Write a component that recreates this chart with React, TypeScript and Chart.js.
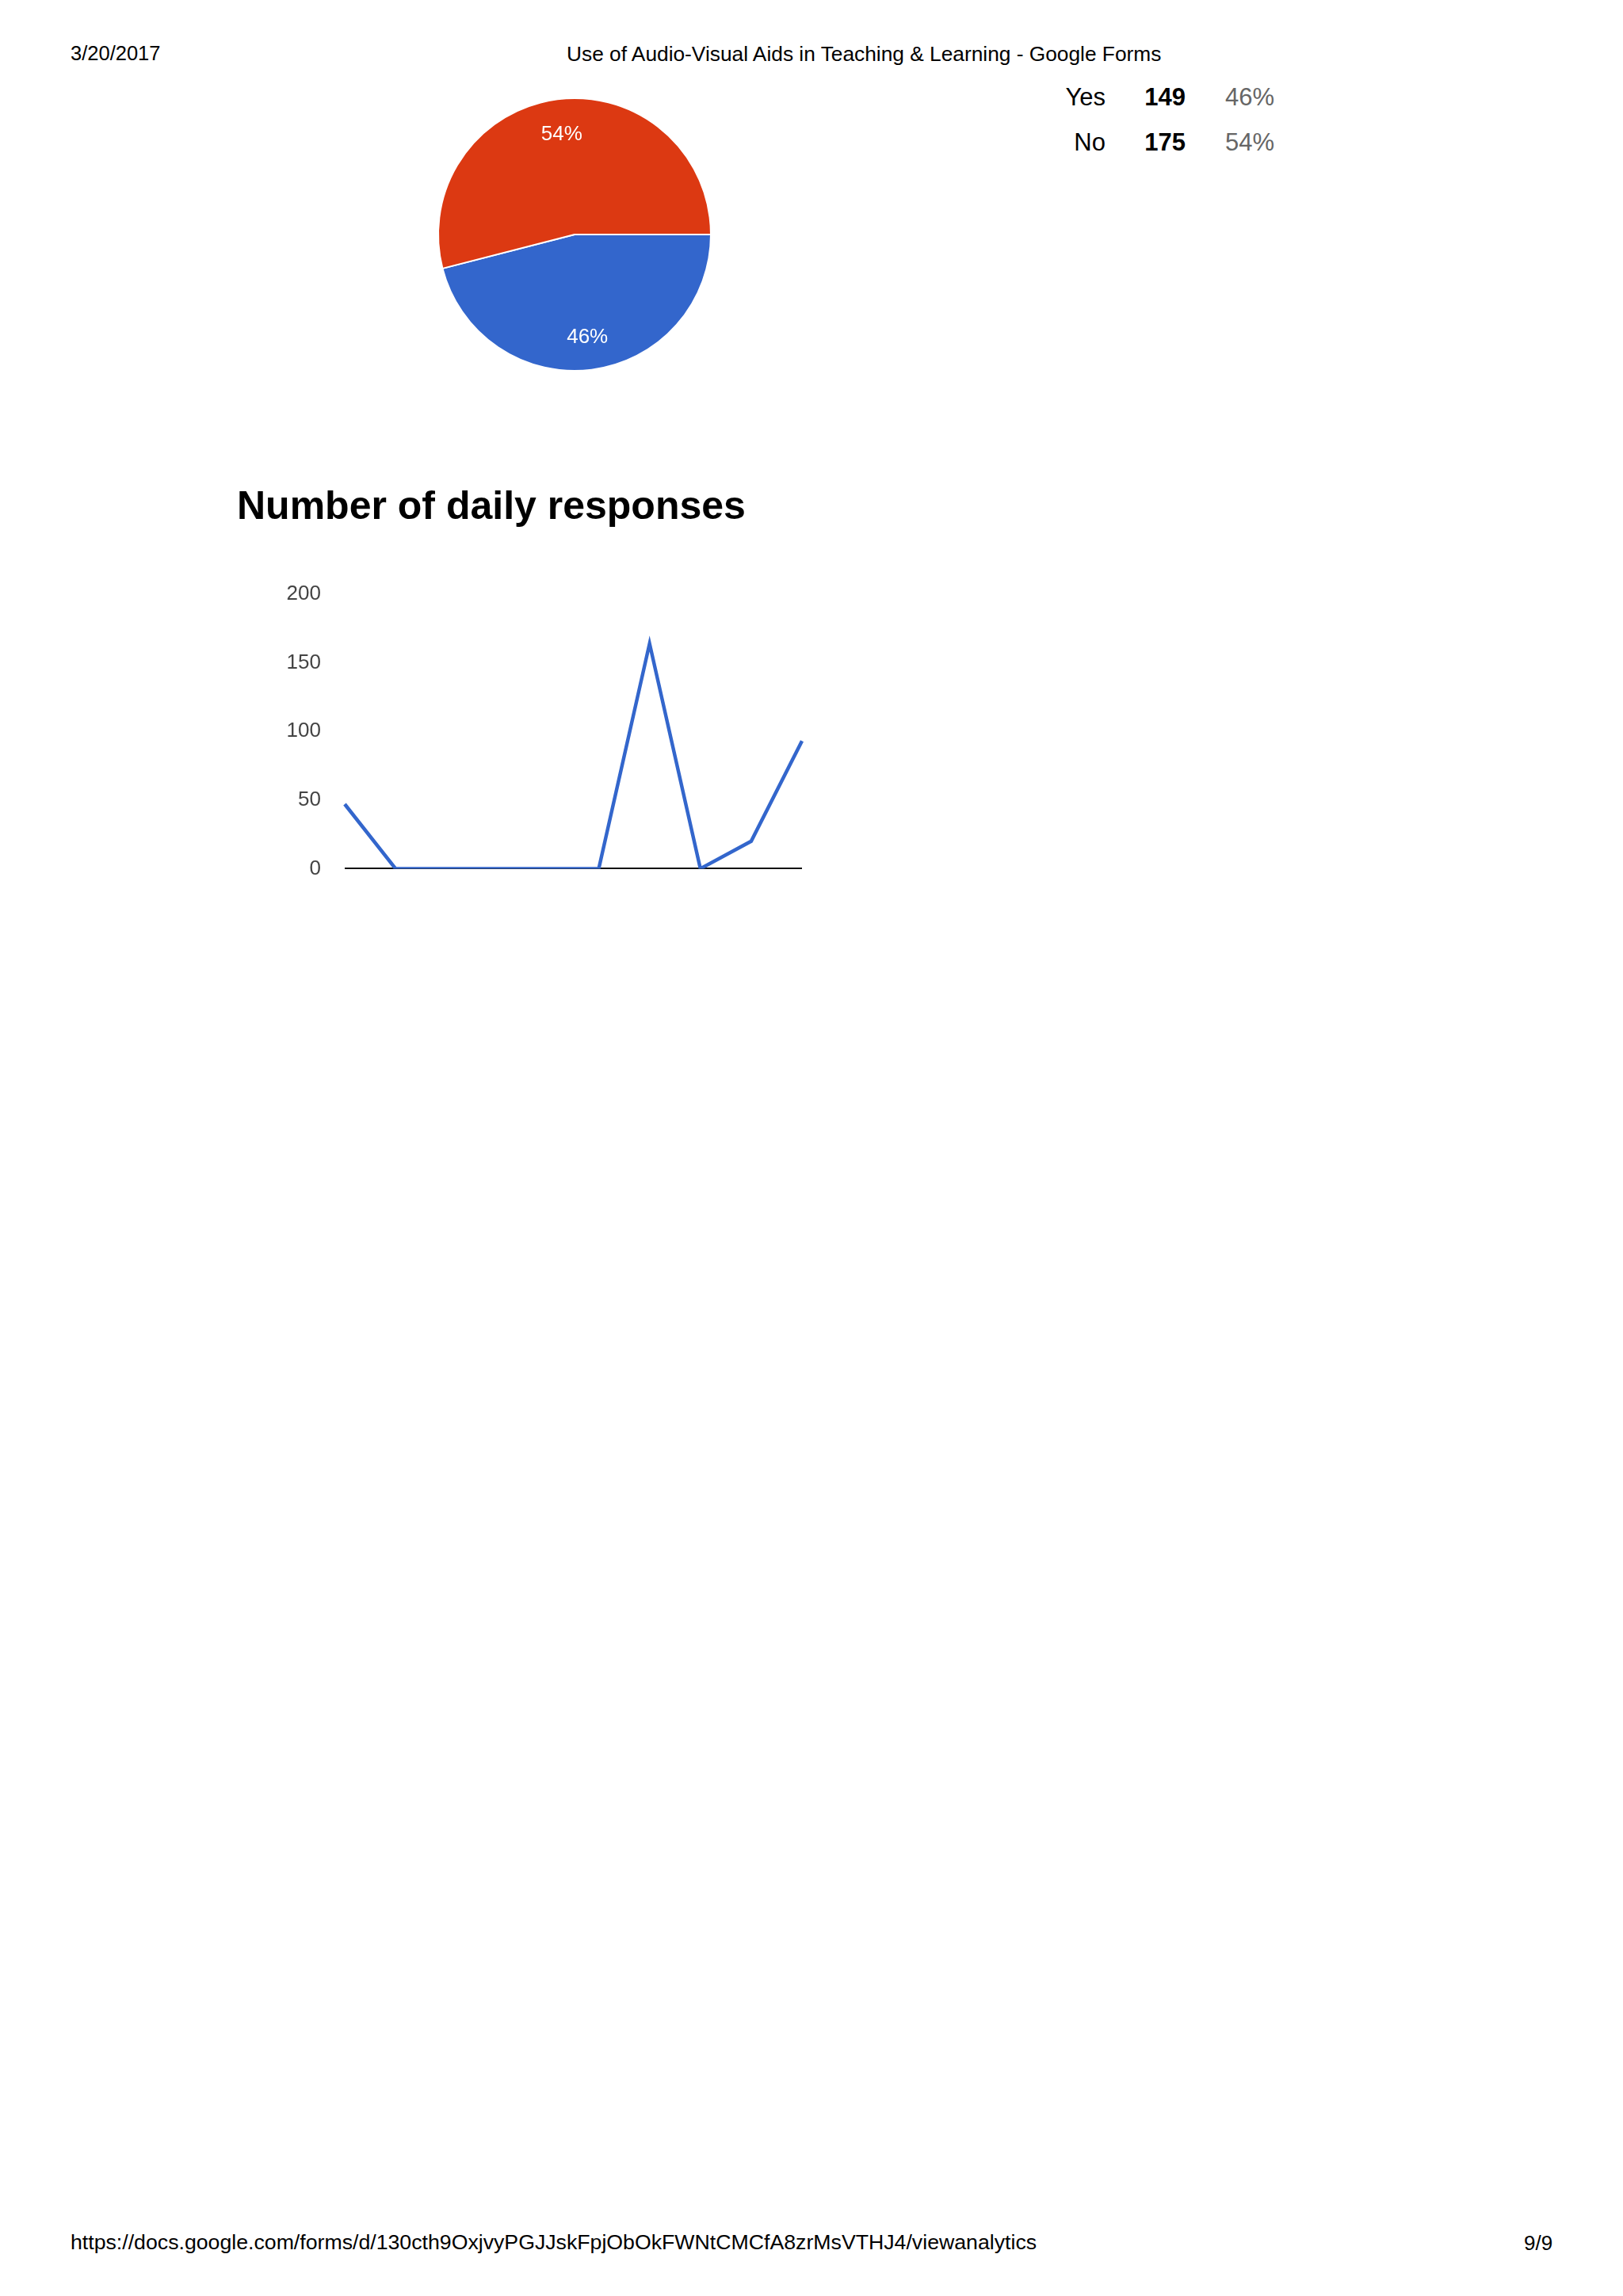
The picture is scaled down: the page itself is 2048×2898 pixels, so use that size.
import React, { useEffect, useRef } from "react";
import { Chart, registerables } from "chart.js";

Chart.register(...registerables);

// ---------- data ----------
const answerLabels = ["Yes", "No"];
const answerCounts = [149, 175];
const answerColors = ["#3366cc", "#dc3912"];

const dayLabels = ["Day 1", "Day 2", "Day 3", "Day 4", "Day 5", "Day 6", "Day 7", "Day 8", "Day 9", "Day 10"];
const dailyResponses = [47, 0, 0, 0, 0, 0, 164, 0, 20, 93];
const yTickValues = [0, 50, 100, 150, 200];

const headerDate = "3/20/2017";
const headerTitle = "Use of Audio-Visual Aids in Teaching & Learning - Google Forms";
const chartTitle = "Number of daily responses";
const footerUrl = "https://docs.google.com/forms/d/130cth9OxjvyPGJJskFpjObOkFWNtCMCfA8zrMsVTHJ4/viewanalytics";
const footerPage = "9/9";

const FONT = "'Liberation Sans', Arial, Helvetica, sans-serif";

const pieLabelPlugin = {
  id: "pieLabels",
  afterDatasetsDraw(chart: any) {
    const ctx = chart.ctx;
    const meta = chart.getDatasetMeta(0);
    const data = chart.data.datasets[0].data as number[];
    const total = data.reduce((a, b) => a + b, 0);
    const size = 26;
    ctx.save();
    ctx.fillStyle = "#ffffff";
    ctx.font = `${size}px ${FONT}`;
    ctx.textAlign = "center";
    ctx.textBaseline = "alphabetic";
    meta.data.forEach((arc: any, i: number) => {
      const { x, y, startAngle, endAngle, outerRadius } = arc.getProps(
        ["x", "y", "startAngle", "endAngle", "outerRadius"],
        true
      );
      const mid = (startAngle + endAngle) / 2;
      const r = outerRadius * 0.75;
      ctx.fillText(
        Math.round((data[i] / total) * 100) + "%",
        x + Math.cos(mid) * r,
        y + Math.sin(mid) * r + size * 0.36
      );
    });
    ctx.restore();
  },
};

function PieChart() {
  const ref = useRef<HTMLCanvasElement | null>(null);
  useEffect(() => {
    if (!ref.current) return;
    const chart = new Chart(ref.current, {
      type: "pie",
      data: {
        labels: answerLabels,
        datasets: [
          {
            data: answerCounts,
            backgroundColor: answerColors,
            borderColor: "#ffffff",
            borderWidth: 2,
            hoverOffset: 0,
          },
        ],
      },
      options: {
        responsive: false,
        animation: false,
        events: [],
        rotation: 90,
        radius: 172,
        layout: { padding: 0 },
        plugins: { legend: { display: false }, tooltip: { enabled: false } },
      } as any,
      plugins: [pieLabelPlugin],
    });
    return () => chart.destroy();
  }, []);
  return (
    <canvas
      ref={ref}
      width={400}
      height={400}
      style={{ position: "absolute", left: 525, top: 96, width: 400, height: 400 }}
    />
  );
}

function LineChart() {
  const ref = useRef<HTMLCanvasElement | null>(null);
  useEffect(() => {
    if (!ref.current) return;
    const chart = new Chart(ref.current, {
      type: "line",
      data: {
        labels: dayLabels,
        datasets: [
          {
            data: dailyResponses,
            borderColor: "#3366cc",
            borderWidth: 4.5,
            pointRadius: 0,
            tension: 0,
            fill: false,
          },
        ],
      },
      options: {
        responsive: false,
        animation: false,
        events: [],
        layout: { padding: { top: 50, right: 28, bottom: 26, left: 0 } },
        plugins: { legend: { display: false }, tooltip: { enabled: false } },
        scales: {
          x: { display: false, offset: false },
          y: {
            min: 0,
            max: 200,
            afterBuildTicks: (scale: any) => {
              scale.ticks = yTickValues.map((v) => ({ value: v }));
            },
            afterFit: (scale: any) => {
              scale.width = 135;
            },
            ticks: {
              padding: 30,
              color: "#444444",
              font: { size: 26, family: FONT },
            },
            grid: {
              drawTicks: false,
              lineWidth: 2,
              color: (c: any) => (c.tick && c.tick.value === 0 ? "#111111" : "rgba(0,0,0,0)"),
            },
            border: { display: false },
          },
        },
      } as any,
    });
    return () => chart.destroy();
  }, []);
  return (
    <canvas
      ref={ref}
      width={740}
      height={442}
      style={{ position: "absolute", left: 300, top: 700, width: 740, height: 442 }}
    />
  );
}

function Text(props: {
  children: React.ReactNode;
  left?: number;
  right?: number;
  baseline: number;
  size: number;
  bold?: boolean;
  color?: string;
}) {
  const { children, left, right, baseline, size, bold, color } = props;
  const style: React.CSSProperties = {
    position: "absolute",
    top: baseline - 0.8465 * size,
    fontSize: size,
    lineHeight: size + "px",
    fontFamily: FONT,
    fontWeight: bold ? 700 : 400,
    color: color || "#000000",
    whiteSpace: "nowrap",
  };
  if (left !== undefined) style.left = left;
  if (right !== undefined) {
    style.right = right;
    style.textAlign = "right";
  }
  return <div style={style}>{children}</div>;
}

export default function App() {
  const rowBaselines = [133, 190];
  const total = answerCounts.reduce((a, b) => a + b, 0);
  return (
    <div
      style={{
        position: "absolute",
        left: 0,
        top: 0,
        width: 2048,
        height: 2898,
        background: "#ffffff",
        overflow: "hidden",
      }}
    >
      <Text left={89} baseline={77} size={25.5}>{headerDate}</Text>
      <Text left={715} baseline={77} size={26.3}>{headerTitle}</Text>

      <PieChart />

      {answerLabels.map((lab, i) => (
        <React.Fragment key={lab}>
          <Text right={2048 - 1395} baseline={rowBaselines[i]} size={31}>{lab}</Text>
          <Text right={2048 - 1496} baseline={rowBaselines[i]} size={31} bold>{answerCounts[i]}</Text>
          <Text right={2048 - 1608} baseline={rowBaselines[i]} size={31} color="#666666">
            {Math.round((answerCounts[i] / total) * 100) + "%"}
          </Text>
        </React.Fragment>
      ))}

      <Text left={299} baseline={655} size={50} bold>{chartTitle}</Text>

      <LineChart />

      <Text left={89} baseline={2840} size={26.7}>{footerUrl}</Text>
      <Text left={1923} baseline={2840} size={26}>{footerPage}</Text>
    </div>
  );
}
